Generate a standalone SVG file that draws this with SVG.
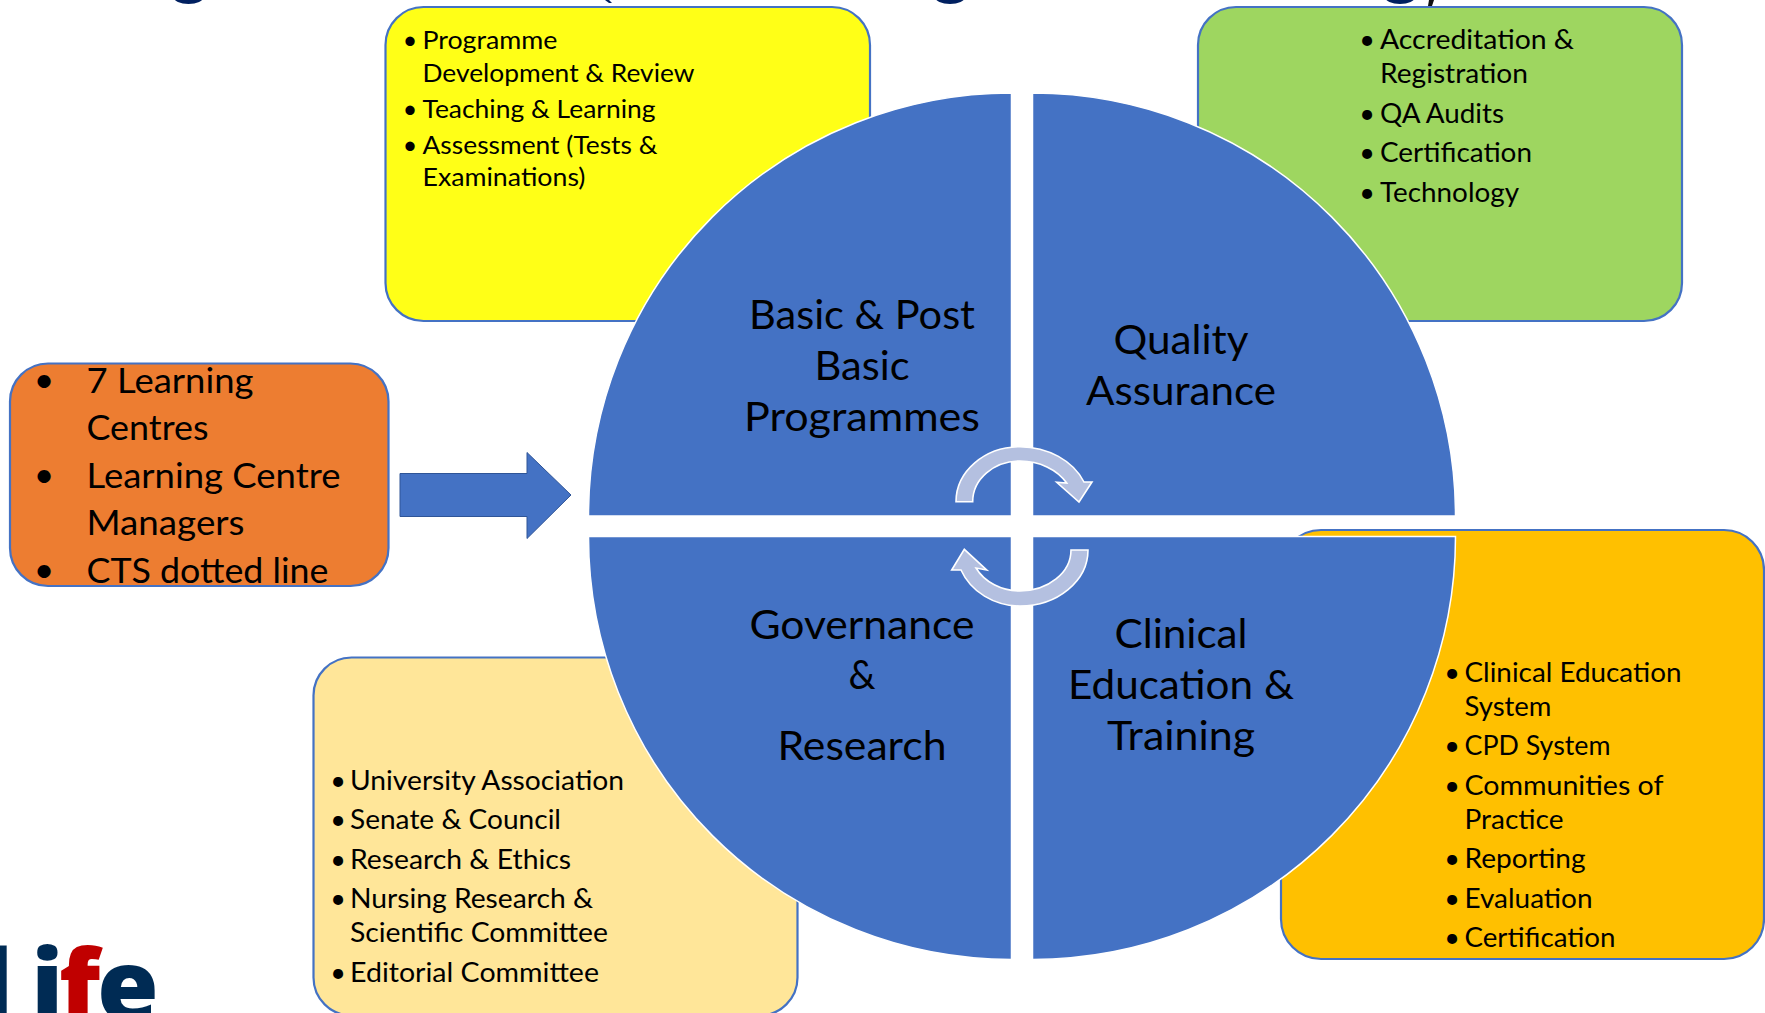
<svg xmlns="http://www.w3.org/2000/svg" width="1765" height="1013" viewBox="0 0 1765 1013">
<style>
.box{stroke:#4472C4;stroke-width:2.2}
.pie{fill:#4472C4;stroke:#fff;stroke-width:1.5}
.cyc{fill:#B4C0E0;stroke:#fff;stroke-width:1.6}
text{font-family:"Lato","Carlito","Open Sans",sans-serif;fill:#000}
.s{font-size:25px}.m{font-size:27px}.l{font-size:35.500px}.h{font-size:40px;text-anchor:middle}
.b{text-anchor:middle}
.logo{font-family:"Open Sans",sans-serif;font-weight:800;font-size:100px;fill:#002B54}
</style>
<rect width="1765" height="1013" fill="#fff"/>
<g id="title-fragments" fill="#002060">
<ellipse cx="188.500" cy="-3" rx="15" ry="7"/><ellipse cx="950" cy="-3" rx="15" ry="7"/><ellipse cx="1400" cy="-3" rx="15" ry="7"/>
<path d="M605 0h4l3 3h-3z"/><path d="M1427 12l3-0 4-12h-5z" fill="#111"/>
</g>
<g id="node-yellow">
<rect class="box" x="385.500" y="7" width="484.500" height="314" rx="38" fill="#FFFF17"/>
<text class="s b" x="410" y="49">•</text>
<text class="s" x="422.500" y="48.500" textLength="135" lengthAdjust="spacingAndGlyphs">Programme</text>
<text class="s" x="422.500" y="81.500" textLength="272" lengthAdjust="spacingAndGlyphs">Development &amp; Review</text>
<text class="s b" x="410" y="117.500">•</text>
<text class="s" x="422.500" y="117.500" textLength="233" lengthAdjust="spacingAndGlyphs">Teaching &amp; Learning</text>
<text class="s b" x="410" y="153.500">•</text>
<text class="s" x="422.500" y="153.500" textLength="235" lengthAdjust="spacingAndGlyphs">Assessment (Tests &amp;</text>
<text class="s" x="422.500" y="185.500" textLength="163" lengthAdjust="spacingAndGlyphs">Examinations)</text>
</g>
<g id="node-green">
<rect class="box" x="1198" y="7" width="484" height="314" rx="38" fill="#9ED660"/>
<text class="m b" x="1367" y="49">•</text>
<text class="m" x="1380" y="49" textLength="194" lengthAdjust="spacingAndGlyphs">Accreditation &amp;</text>
<text class="m" x="1380" y="83" textLength="148" lengthAdjust="spacingAndGlyphs">Registration</text>
<text class="m b" x="1367" y="123">•</text>
<text class="m" x="1380" y="123" textLength="124" lengthAdjust="spacingAndGlyphs">QA Audits</text>
<text class="m b" x="1367" y="162">•</text>
<text class="m" x="1380" y="162" textLength="152" lengthAdjust="spacingAndGlyphs">Certification</text>
<text class="m b" x="1367" y="202">•</text>
<text class="m" x="1380" y="202" textLength="139" lengthAdjust="spacingAndGlyphs">Technology</text>
</g>
<g id="node-orange">
<rect class="box" x="10" y="363.500" width="378.500" height="222.500" rx="38" fill="#ED7D31"/>
<text class="l b" x="44" y="392">•</text>
<text class="l" x="86.500" y="393" textLength="167" lengthAdjust="spacingAndGlyphs">7 Learning</text>
<text class="l" x="86.500" y="439.500" textLength="122" lengthAdjust="spacingAndGlyphs">Centres</text>
<text class="l b" x="44" y="487">•</text>
<text class="l" x="86.500" y="488" textLength="254" lengthAdjust="spacingAndGlyphs">Learning Centre</text>
<text class="l" x="86.500" y="535" textLength="158" lengthAdjust="spacingAndGlyphs">Managers</text>
<text class="l b" x="44" y="582">•</text>
<text class="l" x="86.500" y="583" textLength="242" lengthAdjust="spacingAndGlyphs">CTS dotted line</text>
</g>
<g id="node-cream">
<rect class="box" x="313.500" y="657.500" width="484" height="358" rx="38" fill="#FFE699"/>
<text class="m b" x="338" y="790">•</text>
<text class="m" x="350" y="790" textLength="274" lengthAdjust="spacingAndGlyphs">University Association</text>
<text class="m b" x="338" y="829">•</text>
<text class="m" x="350" y="829" textLength="211" lengthAdjust="spacingAndGlyphs">Senate &amp; Council</text>
<text class="m b" x="338" y="869">•</text>
<text class="m" x="350" y="868.500" textLength="221" lengthAdjust="spacingAndGlyphs">Research &amp; Ethics</text>
<text class="m b" x="338" y="908">•</text>
<text class="m" x="350" y="908" textLength="243" lengthAdjust="spacingAndGlyphs">Nursing Research &amp;</text>
<text class="m" x="350" y="942" textLength="258" lengthAdjust="spacingAndGlyphs">Scientific Committee</text>
<text class="m b" x="338" y="982">•</text>
<text class="m" x="350" y="981.500" textLength="249" lengthAdjust="spacingAndGlyphs">Editorial Committee</text>
</g>
<g id="node-gold">
<rect class="box" x="1281" y="530" width="483" height="429" rx="40" fill="#FFC000"/>
<text class="m b" x="1452" y="682">•</text>
<text class="m" x="1464.500" y="682" textLength="217" lengthAdjust="spacingAndGlyphs">Clinical Education</text>
<text class="m" x="1464.500" y="715.500" textLength="87" lengthAdjust="spacingAndGlyphs">System</text>
<text class="m b" x="1452" y="755">•</text>
<text class="m" x="1464.500" y="755" textLength="146" lengthAdjust="spacingAndGlyphs">CPD System</text>
<text class="m b" x="1452" y="795">•</text>
<text class="m" x="1464.500" y="795" textLength="199" lengthAdjust="spacingAndGlyphs">Communities of</text>
<text class="m" x="1464.500" y="829" textLength="99" lengthAdjust="spacingAndGlyphs">Practice</text>
<text class="m b" x="1452" y="868">•</text>
<text class="m" x="1464.500" y="868" textLength="121" lengthAdjust="spacingAndGlyphs">Reporting</text>
<text class="m b" x="1452" y="908">•</text>
<text class="m" x="1464.500" y="907.500" textLength="128" lengthAdjust="spacingAndGlyphs">Evaluation</text>
<text class="m b" x="1452" y="947">•</text>
<text class="m" x="1464.500" y="946.500" textLength="151" lengthAdjust="spacingAndGlyphs">Certification</text>
</g>
<g id="node-programmes">
<path class="pie" d="M1011.500 516H588.500A423 423 0 0 1 1011.500 93Z"/>
<text class="h" x="862" y="329" textLength="226" lengthAdjust="spacingAndGlyphs">Basic &amp; Post</text>
<text class="h" x="862" y="380" textLength="95" lengthAdjust="spacingAndGlyphs">Basic</text>
<text class="h" x="862" y="431" textLength="236" lengthAdjust="spacingAndGlyphs">Programmes</text>
</g>
<g id="node-quality">
<path class="pie" d="M1032.500 516V93A423 423 0 0 1 1455.500 516Z"/>
<text class="h" x="1181" y="354" textLength="135" lengthAdjust="spacingAndGlyphs">Quality</text>
<text class="h" x="1181" y="405" textLength="190" lengthAdjust="spacingAndGlyphs">Assurance</text>
</g>
<g id="node-governance">
<path class="pie" d="M1011.500 536.500H588.500A423 423 0 0 0 1011.500 959.500Z"/>
<text class="h" x="862" y="639" textLength="225" lengthAdjust="spacingAndGlyphs">Governance</text>
<text class="h" x="862" y="689" textLength="27" lengthAdjust="spacingAndGlyphs">&amp;</text>
<text class="h" x="862" y="760" textLength="169" lengthAdjust="spacingAndGlyphs">Research</text>
</g>
<g id="node-clinical">
<path class="pie" d="M1032.500 536.500V959.500A423 423 0 0 0 1455.500 536.500Z"/>
<text class="h" x="1181" y="648" textLength="133" lengthAdjust="spacingAndGlyphs">Clinical</text>
<text class="h" x="1181" y="699" textLength="226" lengthAdjust="spacingAndGlyphs">Education &amp;</text>
<text class="h" x="1181" y="750" textLength="148" lengthAdjust="spacingAndGlyphs">Training</text>
</g>
<g id="connectors">
<path d="M400 473.500H527V452.500L571 495L527 538.500V516.500H400Z" fill="#4472C4" stroke="#2F5597" stroke-width="1"/>
<path class="cyc" d="M956 501.700A64 55 0 0 1 1020 446.700A70 58 0 0 1 1084 482H1092L1079 502L1056.700 482.300L1066.700 483A54 44 0 0 0 1020 461A47.300 40.700 0 0 0 972.700 501.700Z"/>
<path class="cyc" d="M1088 550A68 56 0 0 1 1020 606A63.800 58 0 0 1 961 570H951.700L964.300 549.300L986.700 570L976 568A49.700 43 0 0 0 1020 591A51 41 0 0 0 1071 550Z"/>
</g>
<g id="logo">
<text class="logo" y="1021"><tspan x="-19">l</tspan><tspan x="31">i</tspan><tspan x="59" fill="#C00000">f</tspan><tspan x="97">e</tspan></text>
</g>
</svg>
